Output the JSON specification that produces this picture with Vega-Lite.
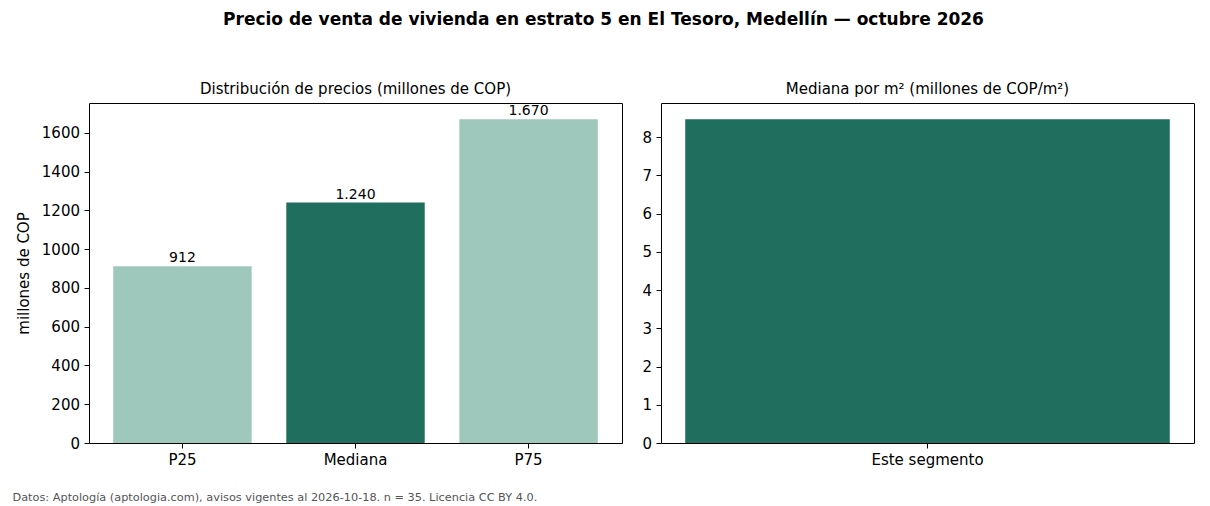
{
  "$schema": "https://vega.github.io/schema/vega-lite/v6.json",
  "padding": {"left": 12, "top": 10, "right": 10, "bottom": 2},
  "config": {
    "font": "DejaVu Sans",
    "locale": {"number": {"decimal": ",", "thousands": ".", "grouping": [3], "currency": ["$", ""]}},
    "view": {"stroke": "black", "strokeWidth": 1},
    "axis": {
      "domain": false, "grid": false, "ticks": true, "tickColor": "black", "tickSize": 5, "tickWidth": 1,
      "labelColor": "black", "labelFontSize": 15, "labelPadding": 4.5, "labelFont": "DejaVu Sans",
      "titleColor": "black", "titleFontSize": 15, "titleFontWeight": "normal", "titleFont": "DejaVu Sans"
    },
    "title": {"font": "DejaVu Sans", "color": "black"}
  },
  "title": {
    "text": "Precio de venta de vivienda en estrato 5 en El Tesoro, Medellín — octubre 2026",
    "fontSize": 17, "fontWeight": "bold", "anchor": "middle", "offset": 53
  },
  "spacing": 24,
  "vconcat": [
    {
      "spacing": 18,
      "hconcat": [
        {
          "width": 533, "height": 340,
          "title": {"text": "Distribución de precios (millones de COP)", "fontSize": 15, "fontWeight": "normal", "offset": 6},
          "data": {"values": [
            {"estadistico": "P25", "valor": 912},
            {"estadistico": "Mediana", "valor": 1240},
            {"estadistico": "P75", "valor": 1670}
          ]},
          "encoding": {
            "x": {"field": "estadistico", "type": "nominal", "sort": null,
                  "scale": {"paddingInner": 0.2, "paddingOuter": 0.14},
                  "axis": {"title": null, "labelAngle": 0}},
            "y": {"field": "valor", "type": "quantitative",
                  "scale": {"domain": [0, 1753.5], "nice": false, "zero": true},
                  "axis": {"title": "millones de COP", "titlePadding": 10, "values": [0, 200, 400, 600, 800, 1000, 1200, 1400, 1600], "format": "d"}}
          },
          "layer": [
            {
              "mark": {"type": "bar"},
              "encoding": {
                "color": {"field": "estadistico", "type": "nominal", "legend": null,
                          "scale": {"domain": ["P25", "Mediana", "P75"], "range": ["#9ec8bb", "#206e5e", "#9ec8bb"]}}
              }
            },
            {
              "mark": {"type": "text", "baseline": "bottom", "dy": -1, "fontSize": 14, "color": "black"},
              "encoding": {"text": {"field": "valor", "type": "quantitative", "format": ",.0f"}}
            }
          ]
        },
        {
          "width": 533, "height": 340,
          "title": {"text": "Mediana por m² (millones de COP/m²)", "fontSize": 15, "fontWeight": "normal", "offset": 6},
          "data": {"values": [
            {"segmento": "Este segmento", "valor_m2": 8.47}
          ]},
          "mark": {"type": "bar", "color": "#206e5e"},
          "encoding": {
            "x": {"field": "segmento", "type": "nominal",
                  "scale": {"paddingInner": 0.2, "paddingOuter": 0.04},
                  "axis": {"title": null, "labelAngle": 0}},
            "y": {"field": "valor_m2", "type": "quantitative",
                  "scale": {"domain": [0, 8.8935], "nice": false},
                  "axis": {"title": null, "values": [0, 1, 2, 3, 4, 5, 6, 7, 8], "format": "d"}}
          }
        }
      ]
    },
    {
      "width": 1, "height": 10,
      "view": {"stroke": null},
      "data": {"values": [{"nota": "Datos: Aptología (aptologia.com), avisos vigentes al 2026-10-18. n = 35. Licencia CC BY 4.0."}]},
      "mark": {"type": "text", "align": "left", "baseline": "middle", "fontSize": 11.3, "color": "#555555", "dx": -77},
      "encoding": {"text": {"field": "nota", "type": "nominal"}}
    }
  ]
}
